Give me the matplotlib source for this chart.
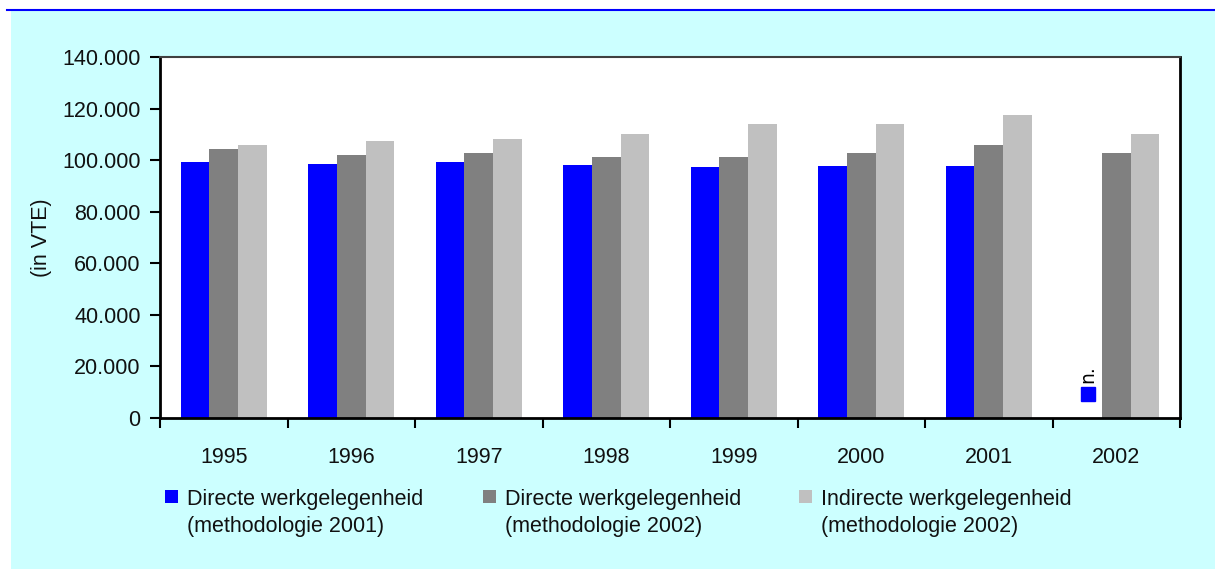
import matplotlib
matplotlib.use("Agg")
import matplotlib.pyplot as plt
from matplotlib.patches import Rectangle
from matplotlib.lines import Line2D
from matplotlib.ticker import FuncFormatter
import numpy as np

# data (in VTE)

years = ["1995", "1996", "1997", "1998", "1999", "2000", "2001", "2002"]
direct_2001 = [99400, 98600, 99400, 98000, 97200, 97800, 97800, None]
direct_2002 = [104300, 102000, 102800, 101300, 101200, 102800, 105900, 102800]
indirect_2002 = [105900, 107400, 108200, 110300, 114000, 114000, 117500, 110100]

series_names = ["Directe werkgelegenheid", "Directe werkgelegenheid", "Indirecte werkgelegenheid"]
series_methods = ["(methodologie 2001)", "(methodologie 2002)", "(methodologie 2002)"]
series_colors = ["#0000FF", "#808080", "#C0C0C0"]
missing_label = "n."
missing_marker_value = 9300

plt.rcParams['font.family'] = ['Liberation Sans', 'DejaVu Sans']

W, H = 1215, 569
fig = plt.figure(figsize=(W / 100, H / 100), dpi=100)
fig.patch.set_facecolor("white")

# cyan panel and the blue rule on top
fig.patches.append(Rectangle((11 / W, 0), 1 - 11 / W, 1 - 11 / H, transform=fig.transFigure,
                             facecolor="#CCFFFF", edgecolor="none", zorder=-5))
fig.lines.append(Line2D([7 / W, 1], [1 - 10 / H, 1 - 10 / H], transform=fig.transFigure,
                        color="#0000FF", linewidth=1.5, zorder=-4))

ax = fig.add_axes([160 / W, 1 - 418 / H, 1020 / W, 361 / H])
ax.set_facecolor("white")

x = np.arange(len(years))
width = 0.225
all_series = [direct_2001, direct_2002, indirect_2002]
for i, (vals, col) in enumerate(zip(all_series, series_colors)):
    v = np.array([np.nan if a is None else a for a in vals], dtype=float)
    ax.bar(x + (i - 1) * width, v, width=width, color=col, edgecolor="none", zorder=2)

# label for missing 2002 value
for xi, val in zip(x, direct_2001):
    if val is None:
        ax.plot(xi - width, missing_marker_value, marker="s", markersize=10,
                color=series_colors[0], zorder=3)
        ax.text(xi - width, missing_marker_value + 4300, missing_label, rotation=90,
                ha="center", va="bottom", fontsize=13.5, family=["DejaVu Sans"])

ax.set_xlim(-0.5, len(years) - 0.5)
ax.set_ylim(0, 140000)
ax.set_yticks(np.arange(0, 140001, 20000))
ax.yaxis.set_major_formatter(FuncFormatter(lambda v, p: f"{int(v):,}".replace(",", ".")))

ax.set_xticks(np.arange(-0.5, len(years), 1.0))
ax.set_xticklabels([])
ax.set_xticks(x, minor=True)
ax.set_xticklabels(years, minor=True)
ax.tick_params(axis="x", which="minor", length=0, pad=21, labelsize=15.5, colors="#111111")
ax.tick_params(axis="x", which="major", length=7, width=1.5, direction="out")
ax.tick_params(axis="y", length=7, width=1.5, direction="out", pad=7, labelsize=15.5, labelcolor="#111111")

for s in ["left", "bottom", "right"]:
    ax.spines[s].set_linewidth(2)
    ax.spines[s].set_color("black")
ax.spines["top"].set_linewidth(1.5)
ax.spines["top"].set_color("#404040")

fig.text(42 / W, 1 - 238 / H, "(in VTE)", rotation=90, ha="center", va="center",
         fontsize=15.5, color="#111111")

# legend below the plot: key square + two text lines per series
legend_x = [165, 483, 799]
for lx, name, method, col in zip(legend_x, series_names, series_methods, series_colors):
    fig.patches.append(Rectangle((lx / W, 1 - 503 / H), 13 / W, 13 / H, transform=fig.transFigure,
                                 facecolor=col, edgecolor="none"))
    fig.text((lx + 22) / W, 1 - 505 / H, name, ha="left", va="baseline",
             fontsize=15.5, color="#111111")
    fig.text((lx + 22) / W, 1 - 532 / H, method, ha="left", va="baseline",
             fontsize=15.5, color="#111111")

fig.savefig("out.png", dpi=100)
